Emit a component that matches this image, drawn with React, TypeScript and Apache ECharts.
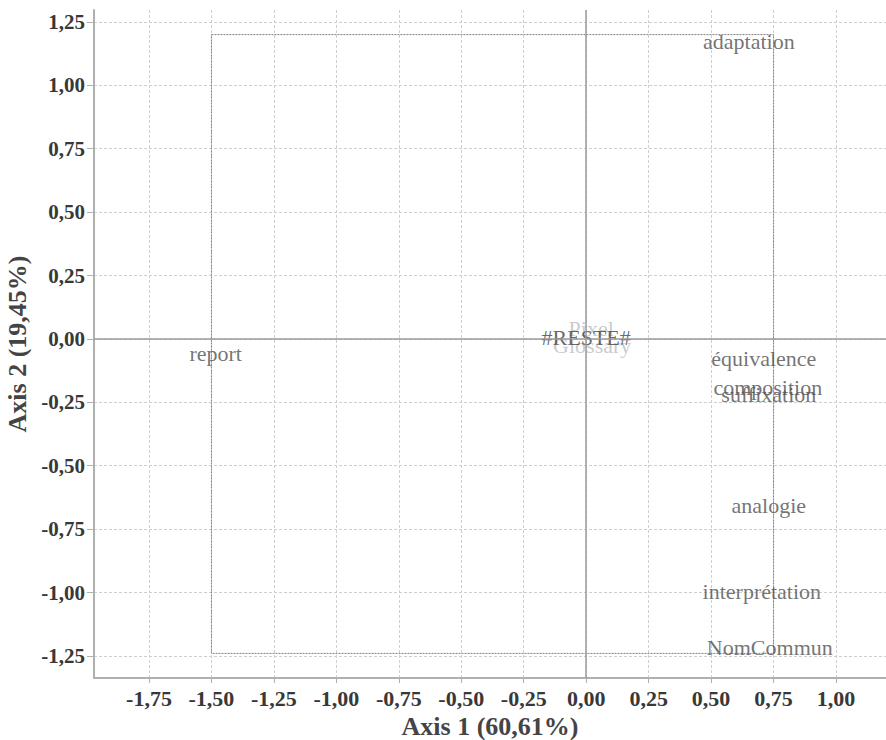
import React, { useEffect, useRef } from "react";
import * as echarts from "echarts";

const labels = ["adaptation", "report", "Pixel", "Glossary", "#RESTE#", "équivalence", "composition", "suffixation", "analogie", "interprétation", "NomCommun"];
const xValues = [0.651, -1.483, 0.02, 0.024, 0.0, 0.711, 0.727, 0.731, 0.731, 0.703, 0.735];
const yValues = [1.171, -0.059, 0.04, -0.024, 0.006, -0.079, -0.193, -0.221, -0.655, -0.994, -1.218];
const labelColors = ["#4f4f4f", "#4f4f4f", "#bdbdbd", "#bdbdbd", "#404040", "#4f4f4f", "#4f4f4f", "#4f4f4f", "#4f4f4f", "#4f4f4f", "#4f4f4f"];

const boxX = [-1.5, 0.75, 0.75, -1.5, -1.5];
const boxY = [1.2, 1.2, -1.24, -1.24, 1.2];

const xTicks = [-1.75, -1.5, -1.25, -1.0, -0.75, -0.5, -0.25, 0, 0.25, 0.5, 0.75, 1.0];
const yTicks = [-1.25, -1.0, -0.75, -0.5, -0.25, 0, 0.25, 0.5, 0.75, 1.0, 1.25];

const xTitle = "Axis 1 (60,61%)";
const yTitle = "Axis 2 (19,45%)";

const fmt = (v: number) => (Math.abs(v) < 1e-9 ? 0 : v).toFixed(2).replace(".", ",");
const FONT = "'Liberation Serif', 'Times New Roman', serif";

export default function App() {
  const ref = useRef<HTMLDivElement>(null);
  useEffect(() => {
    if (!ref.current) return;
    const chart = echarts.init(ref.current, null, { renderer: "svg" });
    const axisCommon = {
      type: "value" as const,
      axisLine: { show: true, onZero: false, lineStyle: { color: "#b0b0b0", width: 2 } },
      splitLine: { show: true, lineStyle: { color: "#cfcfcf", type: [3, 2] as any, width: 1 } },
      nameTextStyle: { fontFamily: FONT, fontWeight: "bold" as const, fontSize: 26, color: "#444" },
    };
    chart.setOption({
      animation: false,
      backgroundColor: "#ffffff",
      grid: { left: 94, right: 0, top: 10, bottom: 62, containLabel: false, outerBoundsMode: "none" },
      xAxis: {
        ...axisCommon,
        min: -1.97,
        max: 1.2,
        name: xTitle,
        nameLocation: "middle",
        nameGap: 23,
        axisTick: { show: true, length: 5, customValues: xTicks, lineStyle: { color: "#b0b0b0" } },
        axisLabel: {
          customValues: xTicks,
          formatter: (v: number) => fmt(v),
          fontFamily: FONT,
          fontWeight: "bold",
          fontSize: 22,
          color: "#383838",
          margin: 9,
        },
      },
      yAxis: {
        ...axisCommon,
        min: -1.337,
        max: 1.297,
        name: yTitle,
        nameLocation: "middle",
        nameGap: 59,
        nameRotate: 90,
        axisTick: { show: true, length: 7, customValues: yTicks, lineStyle: { color: "#b0b0b0" } },
        axisLabel: {
          customValues: yTicks,
          formatter: (v: number) => fmt(v),
          fontFamily: FONT,
          fontWeight: "bold",
          fontSize: 21,
          color: "#383838",
          margin: 9,
        },
      },
      series: [
        {
          type: "line",
          data: boxX.map((x, i) => [x, boxY[i]]),
          symbol: "none",
          silent: true,
          lineStyle: { color: "#808080", width: 1, type: [2, 1] as any },
          z: 2,
        },
        {
          type: "scatter",
          data: xValues.map((x, i) => ({
            value: [x, yValues[i]],
            label: { color: labelColors[i] },
          })),
          symbolSize: 1,
          itemStyle: { color: "rgba(0,0,0,0)" },
          label: {
            show: true,
            position: "inside",
            formatter: (p: any) => labels[p.dataIndex],
            fontFamily: FONT,
            fontSize: 22,
          },
          markLine: {
            silent: true,
            symbol: "none",
            label: { show: false },
            lineStyle: { color: "#9a9a9a", type: "solid", width: 1.5 },
            data: [{ xAxis: 0 }, { yAxis: 0 }],
          },
          z: 3,
        },
      ],
    });
    return () => chart.dispose();
  }, []);
  return <div ref={ref} style={{ position: "absolute", left: 0, top: 0, width: 886, height: 740 }} />;
}
